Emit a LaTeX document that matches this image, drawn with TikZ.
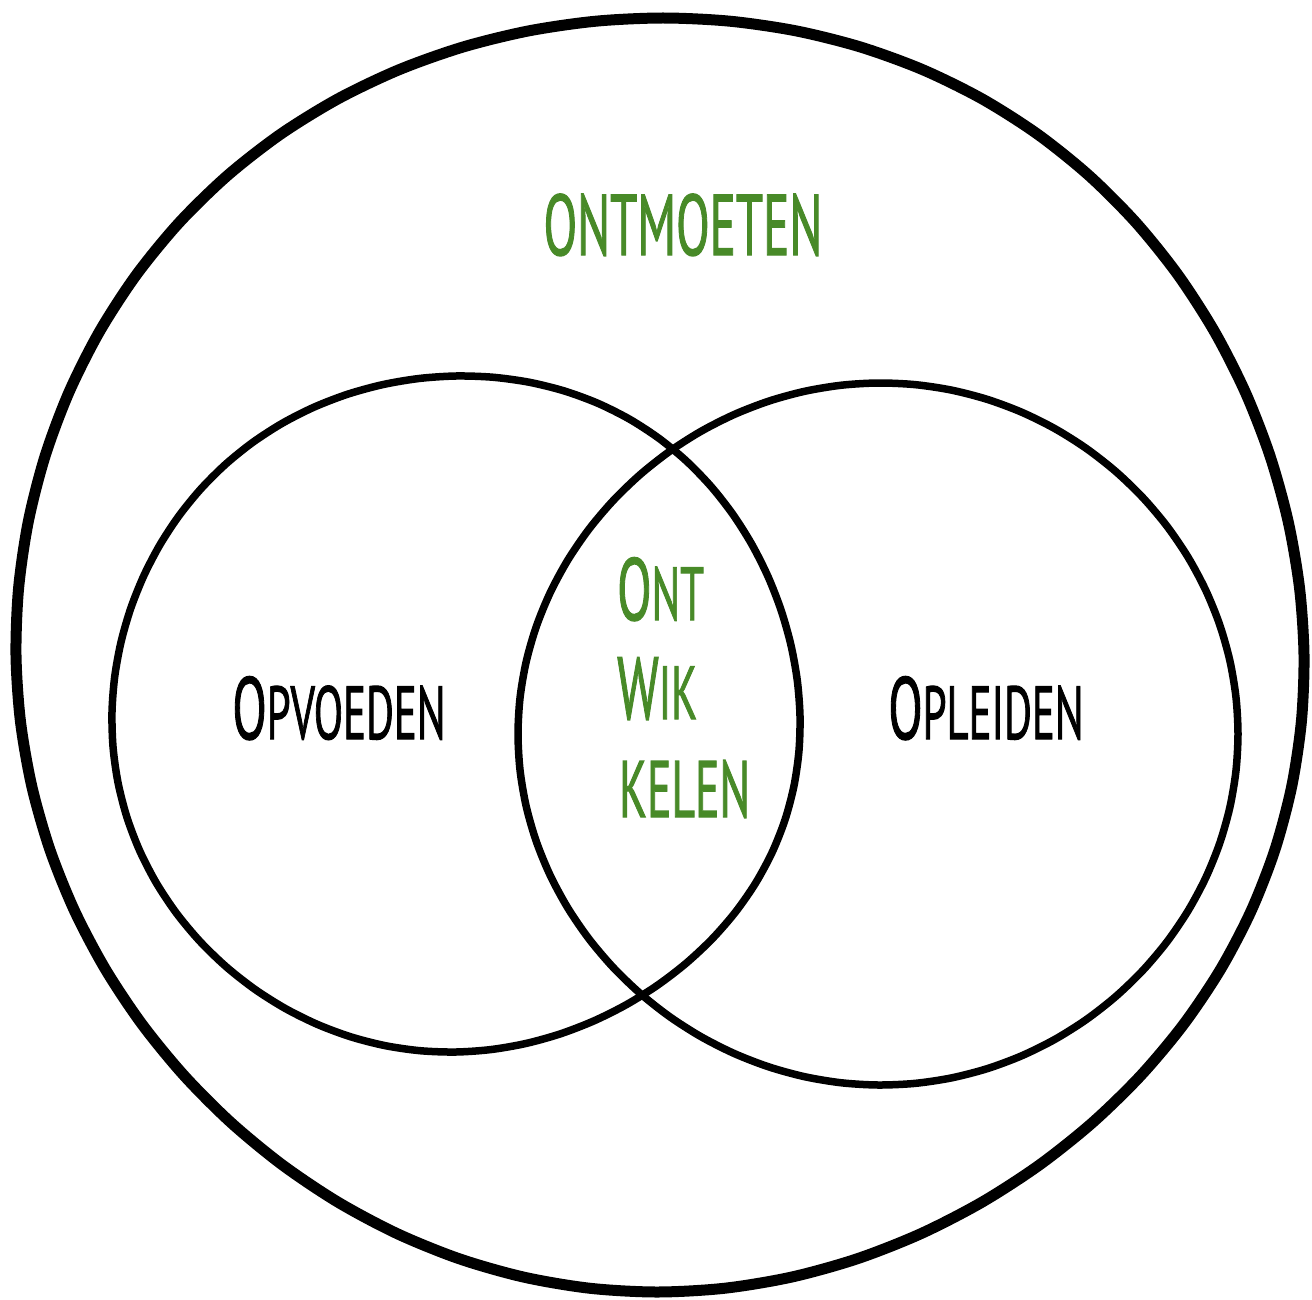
\documentclass[tikz,border=0pt]{standalone}
\usepackage{fontspec}
\usepackage{graphicx}
\setmainfont{PT Sans}
\newfontfamily\handfont[FakeBold=1.6]{PT Sans}
\usepackage{tikz}

\definecolor{leafgreen}{RGB}{72,138,40}
\newcommand\kap[2]{{\fontsize{88}{88}\selectfont #1}{\fontsize{75}{75}\selectfont\MakeUppercase{#2}}}
\newcommand\narrow[1]{\scalebox{0.57}[1]{\handfont #1}}

\begin{document}
\begin{tikzpicture}[x=1pt,y=-1pt,
  ring/.style={line width=#1,line join=round,smooth cycle},
  word/.style={inner sep=0pt,text=black},
  greenword/.style={inner sep=0pt,text=leafgreen}]
\useasboundingbox[fill=white] (0,0) rectangle (1312,1300);
% big circle
\draw[ring=11pt] plot[samples=60,domain=0:354]
  ({660+644*cos(\x)+3*sin(3*\x)},{652+637*sin(\x)+3*cos(4*\x)});
% two overlapping circles
\draw[ring=7.5pt] plot[samples=60,domain=0:354]
  ({456+344*cos(\x)+2*sin(4*\x)},{714+338*sin(\x)+2*cos(3*\x)});
\draw[ring=7.5pt] plot[samples=60,domain=0:354]
  ({878+358*cos(\x)+2*cos(3*\x)},{734+351*sin(\x)+1.5*sin(2*\x)});
% labels
\node[greenword,anchor=base] (meet) at (683,255) {\narrow{\fontsize{86}{86}\selectfont ONTMOETEN}};
\node[word,anchor=base] (raise) at (339,739) {\narrow{\kap{O}{pvoeden}}};
\node[word,anchor=base] (teach) at (986,739) {\narrow{\kap{O}{pleiden}}};
\node[greenword,anchor=base west] (ont) at (617,620) {\narrow{\kap{O}{nt}}};
\node[greenword,anchor=base west] (wik) at (617,719) {\narrow{\kap{W}{ik}}};
\node[greenword,anchor=base west] (kelen) at (619,817) {\narrow{\fontsize{80}{80}\selectfont KELEN}};
\end{tikzpicture}
\end{document}
